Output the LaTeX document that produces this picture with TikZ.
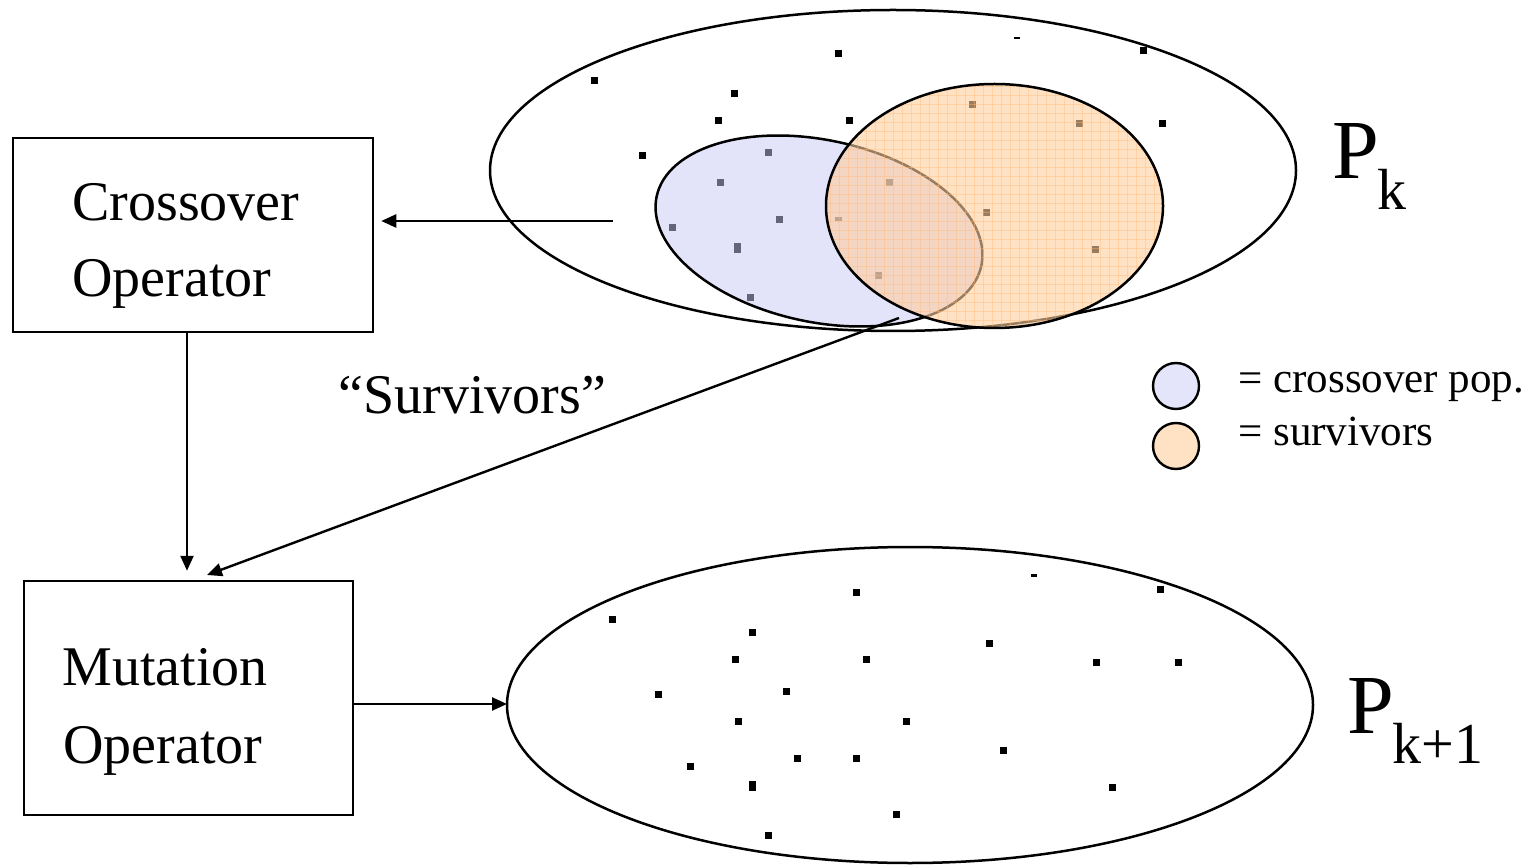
\documentclass[tikz,border=0pt]{standalone}
\usepackage{fontspec}
\setmainfont{Liberation Serif}
\usetikzlibrary{arrows.meta}
% fills are laid on semi-transparently so the points beneath show through
\definecolor{xpopfill}{RGB}{200,200,245}
\definecolor{survfill}{RGB}{255,205,155}
\definecolor{survgrid}{RGB}{255,185,120}
\definecolor{xpopkey}{RGB}{228,228,250}
\definecolor{survkey}{RGB}{255,225,195}
\begin{document}
\begin{tikzpicture}[x=0.5pt,y=-0.5pt,
  outline/.style={line width=1.25pt},
  opbox/.style={draw, line width=1.25pt, inner sep=0pt},
  optext/.style={anchor=base west, inner sep=0pt, font=\fontsize{28}{34}\selectfont},
  poptext/.style={anchor=base west, inner sep=0pt, font=\fontsize{42}{48}\selectfont},
  subtext/.style={anchor=base west, inner sep=0pt, font=\fontsize{29}{34}\selectfont},
  keytext/.style={anchor=base west, inner sep=0pt, font=\fontsize{21.5}{26}\selectfont},
  keydisc/.style={draw, circle, line width=1.2pt, minimum size=23pt, inner sep=0pt},
  link/.style={line width=1.2pt, -{Triangle[length=7.5pt,width=6.5pt]}}]
\useasboundingbox (0,0) rectangle (1535,865);

% ---------- population P_k ----------
\draw[outline] (893,170.5) ellipse [x radius=403, y radius=160.5];
\foreach \x/\y in {594/81, 838/54, 1143/51, 734/94, 718/121, 849/121, 642/156, 1162/124,
                   768/153, 720/183, 779/220, 672/228, 750/298,
                   889/183, 878/276,
                   972/105, 1079/124, 986/213, 1095/250}
  \fill (\x-3.5,\y-3.5) rectangle +(7,7);
\fill (733.5,243) rectangle +(7,10);
\fill (835,217) rectangle +(7,4);
\fill (1014,37) rectangle +(6,2.5);

% crossover population
\fill[xpopfill, fill opacity=0.5, rotate around={-12:(819,231)}]
  (819,231) ellipse [x radius=166, y radius=91];
\draw[outline, rotate around={-12:(819,231)}]
  (819,231) ellipse [x radius=166, y radius=91];

% survivors
\begin{scope}
  \clip (994.5,206) ellipse [x radius=168.5, y radius=122];
  \fill[survfill, fill opacity=0.6] (820,80) rectangle (1170,332);
  \foreach \gx in {830,839,...,1165} \draw[survgrid, line width=0.3pt, opacity=0.4] (\gx,80) -- (\gx,332);
  \foreach \gy in {86,95,...,332} \draw[survgrid, line width=0.3pt, opacity=0.4] (820,\gy) -- (1170,\gy);
\end{scope}
\draw[outline] (994.5,206) ellipse [x radius=168.5, y radius=122];

\node[poptext] (pk-name) at (1332,179) {P};
\node[subtext] (pk-sub) at (1377,210) {k};

% ---------- population P_{k+1} ----------
\draw[outline] (910,705) ellipse [x radius=403, y radius=158];
\foreach \x/\y in {612/619, 856/592, 1160/589, 752/632, 989/643, 735/659, 866/659,
                   1096/662, 1178/662, 658/694, 786/691, 738/721, 906/721, 1003/750,
                   690/766, 797/758, 856/758, 1112/787, 896/814, 768/835}
  \fill (\x-3.5,\y-3.5) rectangle +(7,7);
\fill (748.5,781) rectangle +(7,10);
\fill (1031,574) rectangle +(6,2.5);

\node[poptext] (pk1-name) at (1347,733) {P};
\node[subtext] (pk1-sub) at (1392,763) {k+1};

% ---------- operators ----------
\node[opbox, minimum width=180pt, minimum height=97pt] (xover) at (193,235) {};
\node[optext] (xover-l1) at (72,221) {Crossover};
\node[optext] (xover-l2) at (72,297) {Operator};

\node[opbox, minimum width=164.5pt, minimum height=117pt] (mutation) at (188.5,698) {};
\node[optext] (mutation-l1) at (62,685) {Mutation};
\node[optext] (mutation-l2) at (63,763) {Operator};

\node[optext] (survivors) at (338,414) {“Survivors”};

% ---------- key ----------
\node[keydisc, fill=xpopkey] (key-xpop) at (1176,386) {};
\node[keydisc, fill=survkey] (key-surv) at (1176,446) {};
\node[keytext] (key-xpop-text) at (1238,393) {= crossover pop.};
\node[keytext] (key-surv-text) at (1238,446) {= survivors};

% ---------- connectors ----------
\coordinate (pk-pick) at (613,221);
\coordinate (surv-from) at (899,318);
\coordinate (surv-to) at (207,575);
\coordinate (next-west) at (507,704);

\draw[link, shorten >=3.5pt] (pk-pick) -- (xover.east |- pk-pick);
\draw[link, shorten >=4.5pt] ([xshift=-3pt]xover.south) coordinate (xd) -- (xd |- mutation.north);
\draw[link] (surv-from) -- (surv-to);
\draw[link] (mutation.east |- next-west) -- (next-west);
\end{tikzpicture}
\end{document}
